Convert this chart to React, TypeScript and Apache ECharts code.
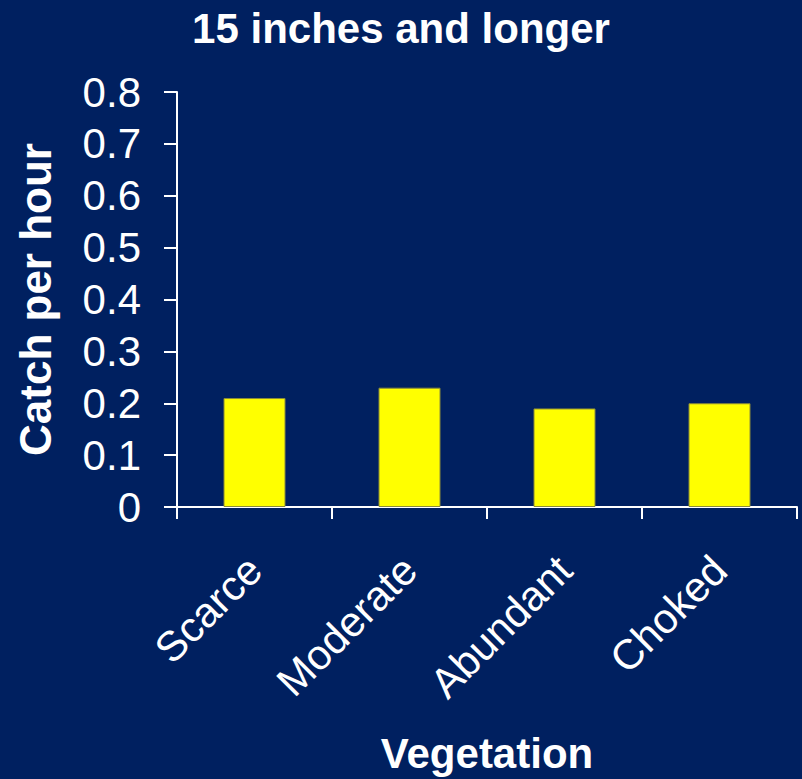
import React, { useEffect, useRef } from "react";
import * as echarts from "echarts";

const titleText = "15 inches and longer";
const categories = ["Scarce", "Moderate", "Abundant", "Choked"];
const catchPerHour = [0.21, 0.23, 0.19, 0.2];
const yMin = 0;
const yMax = 0.8;
const yInterval = 0.1;

const FONT = "Liberation Sans, Arial, sans-serif";

export default function App() {
  const ref = useRef<HTMLDivElement>(null);
  useEffect(() => {
    document.body.style.margin = "0";
    const chart = echarts.init(ref.current!, null, { renderer: "svg" });
    chart.setOption({
      animation: false,
      backgroundColor: "#002060",
      title: {
        text: titleText,
        left: "center",
        top: 2,
        textStyle: { color: "#ffffff", fontFamily: FONT, fontSize: 42, fontWeight: "bold" },
      },
      grid: { left: 177, right: 5, top: 92, bottom: 271, containLabel: false },
      xAxis: {
        type: "category",
        data: categories,
        name: "Vegetation",
        nameLocation: "middle",
        nameGap: 225,
        nameTextStyle: { color: "#ffffff", fontFamily: FONT, fontSize: 42, fontWeight: "bold" },
        axisLine: { lineStyle: { color: "#ffffff", width: 2 } },
        axisTick: { show: true, length: 12, alignWithLabel: false, lineStyle: { color: "#ffffff", width: 2 } },
        axisLabel: {
          rotate: 45,
          color: "#ffffff",
          fontFamily: FONT,
          fontSize: 42,
          margin: 56,
          interval: 0,
        },
      },
      yAxis: {
        type: "value",
        min: yMin,
        max: yMax,
        interval: yInterval,
        name: "Catch per hour",
        nameLocation: "middle",
        nameGap: 120,
        nameTextStyle: { color: "#ffffff", fontFamily: FONT, fontSize: 44, fontWeight: "bold" },
        splitLine: { show: false },
        axisLine: { show: true, lineStyle: { color: "#ffffff", width: 2 } },
        axisTick: { show: true, length: 13, lineStyle: { color: "#ffffff", width: 2 } },
        axisLabel: {
          color: "#ffffff",
          fontFamily: FONT,
          fontSize: 42,
          margin: 36,
          formatter: (v: number) => (v === 0 ? "0" : String(Math.round(v * 10) / 10)),
        },
      },
      series: [
        {
          type: "bar",
          data: catchPerHour,
          barWidth: "40%",
          itemStyle: { color: "#ffff00", borderColor: "#8a8a3a", borderWidth: 1 },
        },
      ],
    });
    return () => chart.dispose();
  }, []);
  return <div ref={ref} style={{ width: 802, height: 779, position: "absolute", left: 0, top: 0 }} />;
}
